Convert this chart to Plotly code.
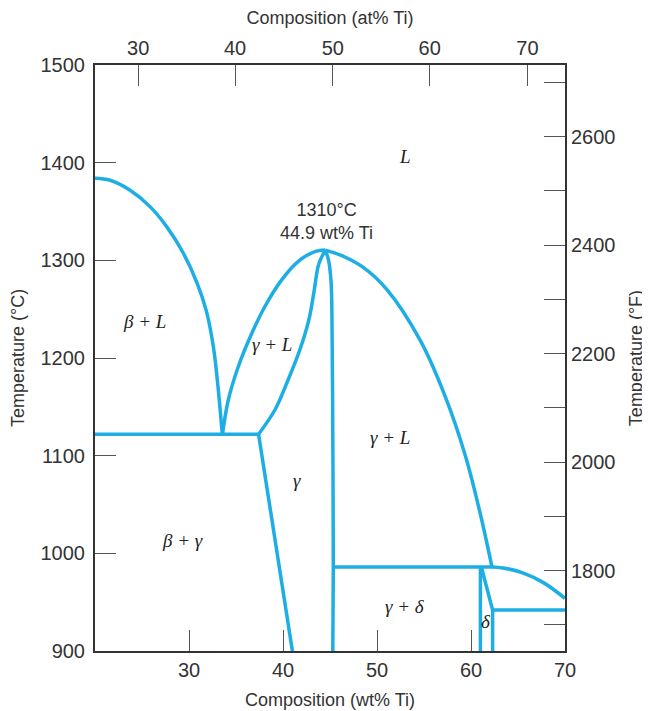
import plotly.graph_objects as go

# ---- data (wt% Ti, temperature in °C) ----
beta_liq_wt = [20.0, 21.6, 23.7, 25.85, 27.66, 29.36, 30.85, 31.85, 32.6, 33.09, 33.51, 33.56]
beta_liq_T = [1384, 1382, 1372, 1355, 1334, 1308, 1277, 1248, 1211, 1170, 1126, 1122]

gam_liq_left_wt = [33.56, 34.18, 35.24, 36.67, 38.09, 39.86, 41.63, 43.40, 44.5]
gam_liq_left_T = [1122, 1157, 1191, 1225, 1253, 1280, 1299, 1309, 1310.5]

gam_sol_left_wt = [44.5, 43.8, 43.3, 42.75, 41.85, 40.56, 39.15, 37.4]
gam_sol_left_T = [1310.5, 1296, 1268, 1239, 1210, 1178, 1147, 1122]

gam_solvus_left_wt = [37.4, 41.0]
gam_solvus_left_T = [1122, 900]

eutectic_wt = [20.0, 37.4]
eutectic_T = [1122, 1122]

gam_right_wt = [44.5, 44.85, 45.1, 45.2, 45.3, 45.35, 45.3]
gam_right_T = [1310.5, 1300, 1280, 1250, 1116, 986, 900]

liq_right_wt = [44.5, 46.2, 48.5, 51.06, 54.57, 57.2, 59.4, 61.0, 62.23]
liq_right_T = [1310.5, 1305, 1293, 1270, 1218.5, 1162, 1100, 1040, 986]

peritectic_wt = [45.35, 62.23]
peritectic_T = [986, 986]

liq_far_wt = [62.23, 63.4, 65.5, 67.7, 70.0]
liq_far_T = [986, 985, 980, 970, 954]

delta_left_wt = [61.0, 61.0]
delta_left_T = [986, 900]

delta_right_wt = [61.1, 62.3, 62.3]
delta_right_T = [986, 942, 900]

eutectic2_wt = [62.3, 70.0]
eutectic2_T = [942, 942]

# axis ticks
wt_ticks = [30, 40, 50, 60, 70]
at_tick_labels = ["30", "40", "50", "60", "70"]
at_tick_pos_wt = [24.6, 34.9, 45.3, 55.6, 66.0]
c_ticks = [900, 1000, 1100, 1200, 1300, 1400, 1500]
f_ticks = [1700, 1800, 1900, 2000, 2100, 2200, 2300, 2400, 2500, 2600, 2700]
f_labels = ["", "1800", "", "2000", "", "2200", "", "2400", "", "2600", ""]

# phase labels
phase_text = ["L", "β + L", "γ + L", "γ + L", "γ", "β + γ", "γ + δ", "δ"]
phase_wt = [53.0, 25.3, 38.8, 51.4, 41.5, 29.3, 53.0, 61.6]
phase_T = [1406, 1237, 1214, 1119, 1075, 1013, 946, 930]

LINE = "#1CAEE4"
FRAME = "#333333"
SANS = "Liberation Sans, Arial, sans-serif"

fig = go.Figure()

curves = [
    (beta_liq_wt, beta_liq_T, "spline"),
    (gam_liq_left_wt, gam_liq_left_T, "spline"),
    (gam_sol_left_wt, gam_sol_left_T, "spline"),
    (gam_solvus_left_wt, gam_solvus_left_T, "linear"),
    (eutectic_wt, eutectic_T, "linear"),
    (gam_right_wt, gam_right_T, "spline"),
    (liq_right_wt, liq_right_T, "spline"),
    (peritectic_wt, peritectic_T, "linear"),
    (liq_far_wt, liq_far_T, "spline"),
    (delta_left_wt, delta_left_T, "linear"),
    (delta_right_wt, delta_right_T, "linear"),
    (eutectic2_wt, eutectic2_T, "linear"),
]
for xs, ys, shp in curves:
    ln = dict(color=LINE, width=3.5, shape=shp)
    if shp == "spline":
        ln["smoothing"] = 1.0
    fig.add_trace(go.Scatter(x=xs, y=ys, mode="lines", line=ln,
                             hoverinfo="skip", showlegend=False))

# invisible trace for secondary axes
fig.add_trace(go.Scatter(x=[20, 70], y=[1652, 2732], xaxis="x2", yaxis="y2",
                         mode="markers", marker=dict(opacity=0), showlegend=False,
                         hoverinfo="skip"))

for t, xw, yT in zip(phase_text, phase_wt, phase_T):
    fig.add_annotation(x=xw, y=yT, xref="x", yref="y", text="<i>" + t + "</i>",
                       showarrow=False,
                       font=dict(family="Liberation Serif, Times New Roman, serif",
                                 size=19, color="#222222"))

fig.add_annotation(x=44.6, y=1340, xref="x", yref="y",
                   text="1310°C<br>44.9 wt% Ti", showarrow=False,
                   font=dict(family=SANS, size=18, color="#333333"))

common = dict(showline=True, linecolor=FRAME, linewidth=2, ticks="inside",
              ticklen=21, tickwidth=1.3, tickcolor="#555555", showgrid=False,
              zeroline=False, automargin=False,
              tickfont=dict(family=SANS, size=20, color="#333333"))
tfont = dict(family=SANS, size=18, color="#333333")

fig.update_layout(
    width=642, height=703,
    margin=dict(l=87, r=85, t=57, b=60),
    paper_bgcolor="white", plot_bgcolor="white",
    xaxis=dict(range=[20, 70], tickvals=wt_ticks,
               title=dict(text="Composition (wt% Ti)", standoff=13, font=tfont),
               **common),
    yaxis=dict(range=[900, 1500], tickvals=c_ticks, ticklabelstandoff=4,
               title=dict(text="Temperature (°C)", standoff=14, font=tfont),
               **common),
    xaxis2=dict(range=[20, 70], overlaying="x", side="top", anchor="y",
                tickvals=at_tick_pos_wt, ticktext=at_tick_labels,
                title=dict(text="Composition (at% Ti)", standoff=11, font=tfont),
                **common),
    yaxis2=dict(range=[1652, 2732], overlaying="y", side="right", anchor="x",
                tickvals=f_ticks, ticktext=f_labels,
                title=dict(text="Temperature (°F)", standoff=15, font=tfont),
                **common),
)

fig.write_html("out.html")
